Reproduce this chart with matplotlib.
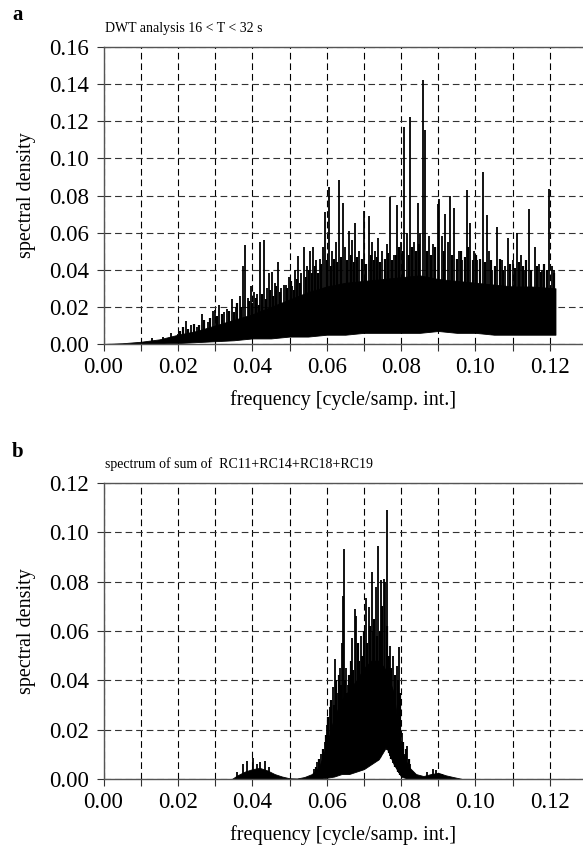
import numpy as np
import matplotlib
matplotlib.use("Agg")
import matplotlib.pyplot as plt
from matplotlib.ticker import MultipleLocator, FormatStrFormatter

# ---- panel a: DWT spectrum, dense band (freq, lower edge, upper edge) ----
a_band_f = [0.000, 0.005, 0.010, 0.015, 0.020, 0.025, 0.030, 0.035, 0.040, 0.045,
            0.050, 0.055, 0.060, 0.065, 0.070, 0.075, 0.080, 0.085, 0.090, 0.095,
            0.100, 0.105, 0.110, 0.115, 0.1215]
a_band_lo = [0, 0, 0, 0.0002, 0.0005, 0.001, 0.0015, 0.002, 0.003, 0.003,
             0.004, 0.004, 0.005, 0.005, 0.006, 0.006, 0.006, 0.006, 0.007, 0.006,
             0.006, 0.005, 0.005, 0.005, 0.005]
a_band_hi = [0, 0.0004, 0.0012, 0.0025, 0.005, 0.007, 0.010, 0.013, 0.016, 0.020,
             0.024, 0.028, 0.031, 0.033, 0.034, 0.035, 0.036, 0.037, 0.035, 0.034,
             0.033, 0.032, 0.031, 0.031, 0.030]

# tall peaks sticking out of the band
a_peak_f = [0.0130, 0.0160, 0.0181, 0.0200, 0.0221, 0.0235, 0.0250, 0.0264, 0.0280, 0.0294,
            0.0300, 0.0311, 0.0325, 0.0333, 0.0345, 0.0355, 0.0366, 0.0374, 0.0380, 0.0388,
            0.0396, 0.0405, 0.0413, 0.0421, 0.0432, 0.0440, 0.0444, 0.0452, 0.0460, 0.0470,
            0.0478, 0.0484, 0.0490, 0.0499, 0.0508, 0.0515, 0.0524, 0.0532, 0.0539, 0.0548,
            0.0556, 0.0564, 0.0572, 0.0582, 0.0590, 0.0596, 0.0607, 0.0615, 0.0624, 0.0633,
            0.0643, 0.0650, 0.0660, 0.0668, 0.0677, 0.0688, 0.0700, 0.0714, 0.0722, 0.0730,
            0.0738, 0.0750, 0.0761, 0.0771, 0.0781, 0.0789, 0.0800, 0.0809, 0.0815, 0.0824,
            0.0835, 0.0845, 0.0852, 0.0859, 0.0865, 0.0875, 0.0885, 0.0898, 0.0903, 0.0910,
            0.0918, 0.0925, 0.0932, 0.0943, 0.0955, 0.0965, 0.0977, 0.0986, 0.0995, 0.1005,
            0.1019, 0.1030, 0.1036, 0.1045, 0.1059, 0.1070, 0.1080, 0.1087, 0.1100, 0.1112,
            0.1122, 0.1130, 0.1143, 0.1159, 0.1170, 0.1180, 0.1197, 0.1205, 0.1212]
a_peak_v = [0.003, 0.004, 0.006, 0.0055, 0.0125, 0.010, 0.009, 0.016, 0.012, 0.018,
            0.0185, 0.021, 0.017, 0.019, 0.024, 0.020, 0.026, 0.042, 0.0535, 0.025,
            0.031, 0.028, 0.027, 0.0548, 0.0559, 0.030, 0.038, 0.039, 0.033, 0.044,
            0.030, 0.032, 0.032, 0.036, 0.031, 0.040, 0.0476, 0.038, 0.052, 0.042,
            0.050, 0.052, 0.045, 0.046, 0.052, 0.071, 0.0845, 0.050, 0.055, 0.0885,
            0.076, 0.052, 0.061, 0.056, 0.065, 0.050, 0.0715, 0.069, 0.055, 0.050,
            0.057, 0.050, 0.054, 0.079, 0.048, 0.075, 0.055, 0.117, 0.060, 0.1225,
            0.055, 0.076, 0.060, 0.142, 0.1155, 0.058, 0.054, 0.0755, 0.078, 0.058,
            0.070, 0.055, 0.0795, 0.0735, 0.050, 0.045, 0.0827, 0.065, 0.050, 0.045,
            0.0926, 0.0695, 0.050, 0.040, 0.063, 0.045, 0.042, 0.057, 0.045, 0.060,
            0.048, 0.040, 0.0728, 0.052, 0.043, 0.040, 0.0836, 0.042, 0.040]

# smaller peaks along the top of the band
a_mid_f = [0.0205, 0.0215, 0.0228, 0.0242, 0.0257, 0.0270, 0.0287, 0.0305, 0.0318, 0.0338,
           0.0350, 0.0360, 0.0370, 0.0392, 0.0400, 0.0409, 0.0417, 0.0426, 0.0437, 0.0448,
           0.0456, 0.0465, 0.0474, 0.0494, 0.0503, 0.0512, 0.0520, 0.0528, 0.0544, 0.0552,
           0.0560, 0.0568, 0.0577, 0.0586, 0.0602, 0.0611, 0.0620, 0.0628, 0.0638, 0.0655,
           0.0664, 0.0673, 0.0682, 0.0694, 0.0706, 0.0718, 0.0726, 0.0734, 0.0744, 0.0756,
           0.0766, 0.0776, 0.0785, 0.0795, 0.0804, 0.0820, 0.0830, 0.0840, 0.0849, 0.0870,
           0.0880, 0.0890, 0.0915, 0.0938, 0.0950, 0.0960, 0.0972, 0.0981, 0.0992, 0.1000,
           0.1012, 0.1025, 0.1041, 0.1052, 0.1065, 0.1075, 0.1093, 0.1106, 0.1117, 0.1127,
           0.1137, 0.1150, 0.1165, 0.1175, 0.1185, 0.1192, 0.1210]
a_mid_v = [0.007, 0.009, 0.008, 0.011, 0.010, 0.013, 0.014, 0.015, 0.016, 0.018,
           0.017, 0.022, 0.020, 0.023, 0.022, 0.025, 0.021, 0.027, 0.024, 0.029,
           0.026, 0.031, 0.028, 0.030, 0.034, 0.029, 0.035, 0.033, 0.036, 0.040,
           0.038, 0.042, 0.038, 0.043, 0.045, 0.042, 0.046, 0.044, 0.047, 0.045,
           0.048, 0.044, 0.047, 0.046, 0.043, 0.048, 0.045, 0.047, 0.044, 0.046,
           0.049, 0.045, 0.048, 0.052, 0.050, 0.048, 0.052, 0.050, 0.054, 0.050,
           0.048, 0.052, 0.050, 0.048, 0.046, 0.050, 0.047, 0.052, 0.045, 0.048,
           0.046, 0.044, 0.045, 0.042, 0.046, 0.040, 0.043, 0.041, 0.044, 0.042,
           0.045, 0.040, 0.042, 0.039, 0.043, 0.040, 0.038]

# ---- panel b: spectrum of RC11+RC14+RC18+RC19 ----
b_band_f = [0.0345, 0.036, 0.038, 0.040, 0.042, 0.044, 0.046, 0.048, 0.050, 0.052,
            0.054, 0.056, 0.058, 0.060, 0.062, 0.064, 0.066, 0.068, 0.070, 0.072,
            0.074, 0.076, 0.078, 0.080, 0.082, 0.084, 0.086, 0.088, 0.090, 0.092,
            0.094, 0.0965]
b_band_hi = [0, 0.0015, 0.003, 0.004, 0.0045, 0.0035, 0.002, 0.001, 0.0003, 0.0002,
             0.0008, 0.002, 0.005, 0.014, 0.025, 0.032, 0.036, 0.040, 0.045, 0.048,
             0.048, 0.044, 0.035, 0.012, 0.005, 0.002, 0.0012, 0.002, 0.0025, 0.0015,
             0.0008, 0]
b_band_lo = [0, 0, 0, 0, 0, 0, 0, 0, 0, 0,
             0, 0, 0, 0.0005, 0.001, 0.002, 0.002, 0.003, 0.004, 0.006,
             0.008, 0.013, 0.006, 0.001, 0, 0, 0, 0, 0, 0,
             0, 0]

b_peak_f = [0.0360, 0.0375, 0.0385, 0.0401, 0.0412, 0.0422, 0.0434, 0.0445, 0.0565, 0.0575,
            0.0585, 0.0595, 0.0600, 0.0609, 0.0616, 0.0622, 0.0630, 0.0636, 0.0641, 0.0643,
            0.0647, 0.0652, 0.0658, 0.0664, 0.0669, 0.0676, 0.0680, 0.0685, 0.0691, 0.0698,
            0.0705, 0.0714, 0.0721, 0.0725, 0.0732, 0.0739, 0.0745, 0.0750, 0.0754, 0.0758,
            0.0763, 0.0770, 0.0779, 0.0788, 0.0795, 0.0802, 0.0810, 0.0817, 0.0825, 0.0870,
            0.0885, 0.0895, 0.0910]
b_peak_v = [0.003, 0.006, 0.0075, 0.0084, 0.006, 0.0068, 0.0075, 0.005, 0.004, 0.007,
            0.010, 0.015, 0.022, 0.029, 0.0375, 0.0486, 0.035, 0.045, 0.0553, 0.074,
            0.0932, 0.045, 0.038, 0.045, 0.057, 0.0688, 0.066, 0.050, 0.058, 0.045,
            0.0733, 0.0696, 0.0841, 0.060, 0.078, 0.0945, 0.0807, 0.065, 0.081, 0.080,
            0.109, 0.054, 0.050, 0.046, 0.0534, 0.0185, 0.010, 0.0132, 0.006, 0.003,
            0.004, 0.0035, 0.002]

b_mid_f = [0.0570, 0.0580, 0.0590, 0.0598, 0.0604, 0.0612, 0.0619, 0.0626, 0.0633, 0.0639,
           0.0650, 0.0655, 0.0661, 0.0666, 0.0672, 0.0683, 0.0688, 0.0695, 0.0701, 0.0709,
           0.0717, 0.0728, 0.0735, 0.0742, 0.0748, 0.0761, 0.0767, 0.0774, 0.0784, 0.0792,
           0.0798, 0.0806, 0.0813, 0.0822]
b_mid_v = [0.005, 0.008, 0.012, 0.018, 0.025, 0.032, 0.030, 0.040, 0.042, 0.038,
           0.040, 0.035, 0.042, 0.048, 0.044, 0.055, 0.048, 0.050, 0.060, 0.055,
           0.062, 0.065, 0.058, 0.060, 0.070, 0.062, 0.050, 0.045, 0.042, 0.040,
           0.035, 0.015, 0.012, 0.008]

xticks_major = 0.02
xticks_minor = 0.01

plt.rcParams['font.family'] = ['Liberation Serif', 'DejaVu Serif']

W, H = 583, 852
fig = plt.figure(figsize=(W / 100, H / 100), dpi=100)

x0 = 103.5
xmax = (W - x0) / 3720.0


def panel(top, bottom, ymax, band_f, band_lo, band_hi, peak_f, peak_v, mid_f, mid_v):
    ax = fig.add_axes([x0 / W, 1 - bottom / H, 1 - x0 / W, (bottom - top) / H])
    ax.set_axisbelow(True)
    ax.fill_between(band_f, band_lo, band_hi, color='black', lw=0.6)
    base = np.interp(mid_f, band_f, band_lo)
    ax.vlines(mid_f, base, mid_v, color='black', lw=1.6)
    base = np.interp(peak_f, band_f, band_lo)
    ax.vlines(peak_f, base, peak_v, color='black', lw=1.3)
    ax.set_xlim(0, xmax)
    ax.set_ylim(0, ymax)
    ax.xaxis.set_major_locator(MultipleLocator(xticks_major))
    ax.xaxis.set_minor_locator(MultipleLocator(xticks_minor))
    ax.yaxis.set_major_locator(MultipleLocator(0.02))
    ax.xaxis.set_major_formatter(FormatStrFormatter('%.2f'))
    ax.yaxis.set_major_formatter(FormatStrFormatter('%.2f'))
    ax.grid(which='both', axis='x', color='black', lw=0.8, ls=(0, (6, 3.5)))
    ax.grid(which='major', axis='y', color='#333333', lw=0.8, ls=(0, (6, 3.5)))
    ax.tick_params(which='both', direction='out', length=5, width=0.8,
                   labelsize=16.5, colors='#333333', labelcolor='black')
    ax.tick_params(axis='x', pad=4)
    ax.tick_params(axis='y', pad=5.5)
    ax.spines['right'].set_visible(False)
    for s in ['left', 'top', 'bottom']:
        ax.spines[s].set_color('#555555')
        ax.spines[s].set_linewidth(1.0)
    ax.set_xlabel('frequency [cycle/samp. int.]', fontsize=14.5, labelpad=9)
    ax.set_ylabel('spectral density', fontsize=14.5, labelpad=9)
    return ax


ax_a = panel(47, 344, 0.16, a_band_f, a_band_lo, a_band_hi, a_peak_f, a_peak_v,
             a_mid_f, a_mid_v)
ax_b = panel(483, 779, 0.12, b_band_f, b_band_lo, b_band_hi, b_peak_f, b_peak_v,
             b_mid_f, b_mid_v)

fig.text(12 / W, 1 - 20 / H, 'a', fontsize=15, fontweight='bold', va='baseline')
fig.text(105 / W, 1 - 32 / H, 'DWT analysis 16 < T < 32 s', fontsize=10, va='baseline')
fig.text(12 / W, 1 - 457 / H, 'b', fontsize=15, fontweight='bold', va='baseline')
fig.text(105 / W, 1 - 468 / H, 'spectrum of sum of  RC11+RC14+RC18+RC19', fontsize=10,
         va='baseline')

fig.savefig('out.png', dpi=100)
